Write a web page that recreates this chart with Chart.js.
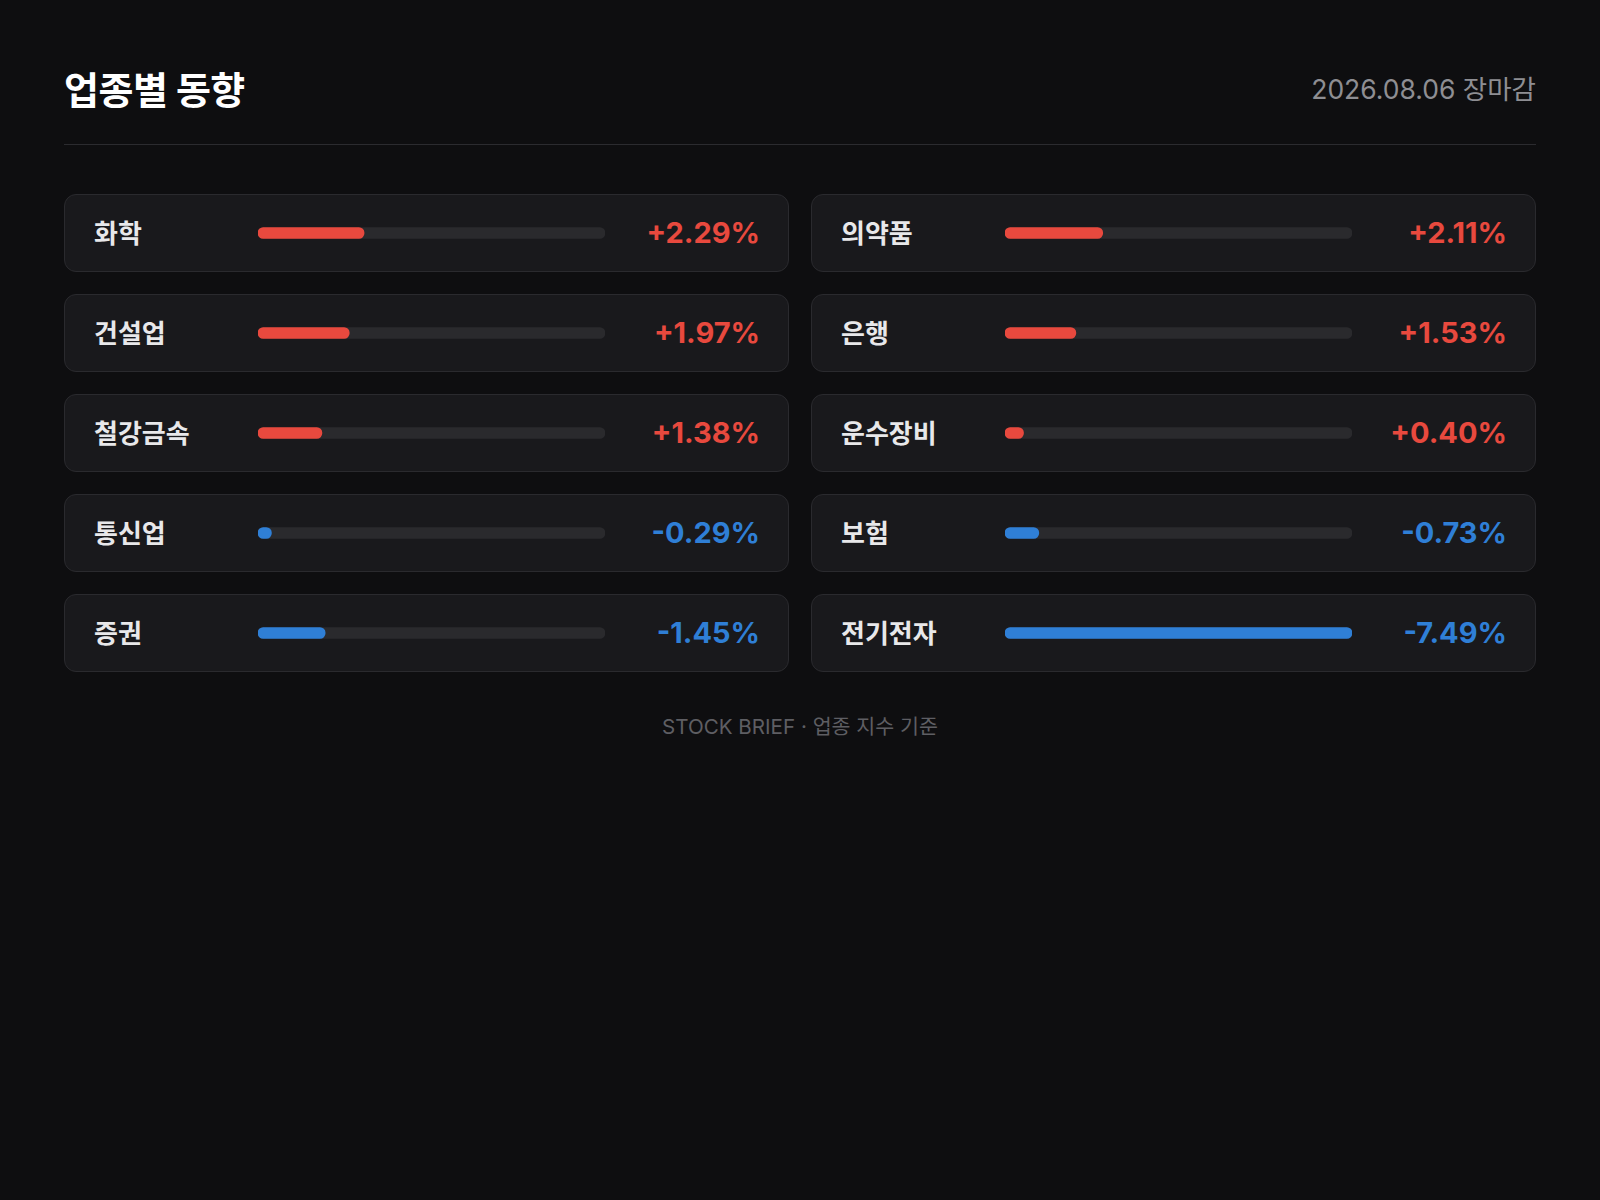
<!DOCTYPE html>
<html lang="ko">
<head>
<meta charset="utf-8">
<title>업종별 동향</title>
<script src="https://cdn.jsdelivr.net/npm/chart.js@4.4.1/dist/chart.umd.min.js"></script>
<style>
  html, body {
    margin: 0;
    background: #0e0e10;
    font-family: "Inter", "Noto Sans CJK KR", "Noto Sans", sans-serif;
  }
  .wrap {
    width: 1472px;
    margin-left: 64px;
    padding-top: 62px;
  }
  .head {
    display: flex;
    justify-content: space-between;
    align-items: center;
    height: 50px;
    padding-bottom: 32px;
    border-bottom: 1px solid #2b2b2f;
  }
  .head h1 {
    margin: 0;
    font-size: 38px;
    font-weight: 700;
    color: #ffffff;
    letter-spacing: -0.5px;
  }
  .head .date {
    font-size: 26.5px;
    color: #8e8e93;
  }
  .grid {
    display: grid;
    grid-template-columns: 725px 725px;
    column-gap: 22px;
    row-gap: 22px;
    margin-top: 49px;
  }
  .card {
    box-sizing: border-box;
    height: 78px;
    background: #19191c;
    border: 1px solid #2a2a2e;
    border-radius: 12px;
    display: flex;
    align-items: center;
    padding: 0 28px 0 29px;
  }
  .card .name {
    width: 164px;
    font-size: 26px;
    font-weight: 600;
    color: #e8e8ea;
    position: relative;
    top: -2px;
  }
  .card .bar {
    width: 347px;
    height: 20px;
    position: relative;
  }
  .card .val {
    flex: 1;
    text-align: right;
    font-size: 29px;
    font-weight: 700;
    position: relative;
    top: -1px;
  }
  .foot {
    text-align: center;
    margin-top: 38px;
    font-size: 20.6px;
    color: #5e5e63;
  }
</style>
</head>
<body>
<div class="wrap">
  <div class="head">
    <h1>업종별 동향</h1>
    <div class="date">2026.08.06 장마감</div>
  </div>
  <div class="grid" id="grid"></div>
  <div class="foot">STOCK BRIEF · 업종 지수 기준</div>
</div>

<script>
// sectors, in reading order (left to right, top to bottom)
const sectors = ["화학", "의약품", "건설업", "은행", "철강금속", "운수장비", "통신업", "보험", "증권", "전기전자"];
const changes = [2.29, 2.11, 1.97, 1.53, 1.38, 0.40, -0.29, -0.73, -1.45, -7.49];

const upColor = "#e8493e";
const downColor = "#2f7fd6";
const trackColor = "#2a2a2d";

const maxAbs = Math.max(...changes.map(v => Math.abs(v)));

const grid = document.getElementById("grid");

sectors.forEach(function (sector, i) {
    const v = changes[i];
    const color = v >= 0 ? upColor : downColor;

    const card = document.createElement("div");
    card.className = "card";

    const nameEl = document.createElement("div");
    nameEl.className = "name";
    nameEl.textContent = sector;

    const barEl = document.createElement("div");
    barEl.className = "bar";
    const cv = document.createElement("canvas");
    barEl.appendChild(cv);

    const valEl = document.createElement("div");
    valEl.className = "val";
    valEl.style.color = color;
    valEl.textContent = (v >= 0 ? "+" : "") + v.toFixed(2) + "%";

    card.appendChild(nameEl);
    card.appendChild(barEl);
    card.appendChild(valEl);
    grid.appendChild(card);

    new Chart(cv, {
        type: "bar",
        data: {
            labels: [sector],
            datasets: [{
                data: [Math.abs(v)],
                backgroundColor: color,
                order: 0
            }, {
                data: [maxAbs],
                backgroundColor: trackColor,
                order: 1
            }]
        },
        options: {
            indexAxis: "y",
            responsive: true,
            maintainAspectRatio: false,
            animation: false,
            layout: { padding: 0 },
            datasets: {
                bar: {
                    grouped: false,
                    barThickness: 11,
                    borderRadius: 6,
                    borderSkipped: false
                }
            },
            scales: {
                x: { display: false, min: 0, max: maxAbs },
                y: { display: false }
            },
            plugins: {
                legend: { display: false },
                tooltip: { enabled: false }
            }
        }
    });
});
</script>
</body>
</html>
